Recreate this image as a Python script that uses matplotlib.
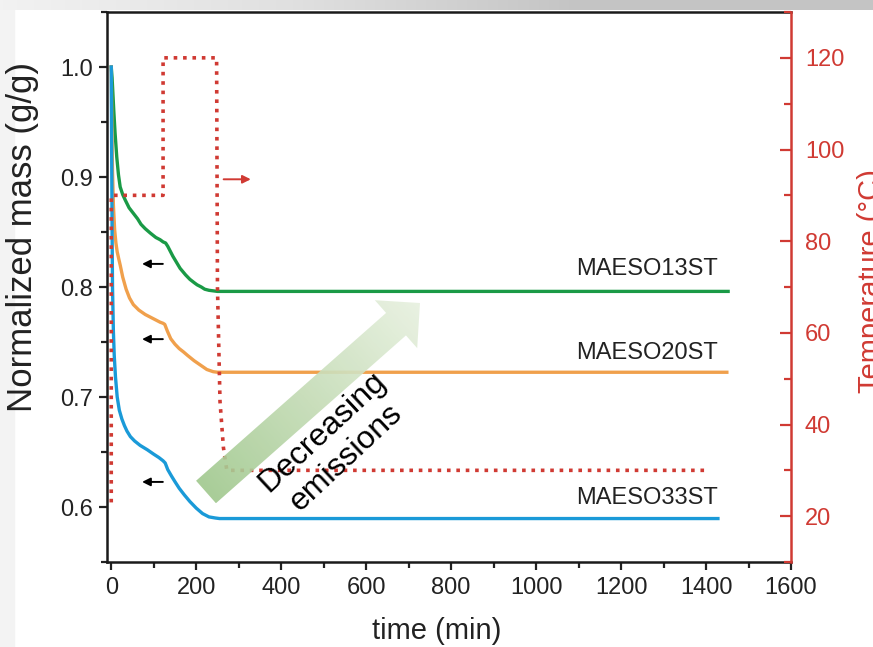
import numpy as np
import matplotlib
matplotlib.use("Agg")
import matplotlib.pyplot as plt
from matplotlib.patches import Polygon, Rectangle

plt.rcParams['font.family'] = ['Liberation Sans', 'DejaVu Sans']

# mass curves (time in min, normalized mass g/g)
t_13 = [0, 2, 4, 6, 9, 13, 17, 21, 27, 33, 42, 52, 62, 70, 80, 92, 105, 115, 122, 128, 133, 145, 162, 175, 185, 195, 202, 212, 220, 230, 240, 250, 1452]
m_13 = [1.0, 0.99, 0.975, 0.96, 0.94, 0.918, 0.902, 0.891, 0.884, 0.879, 0.872, 0.867, 0.862, 0.857, 0.853, 0.849, 0.845, 0.843, 0.841, 0.840, 0.837, 0.828, 0.817, 0.811, 0.807, 0.804, 0.802, 0.800, 0.798, 0.797, 0.7965, 0.796, 0.796]

t_20 = [0, 1, 2, 3, 5, 8, 11, 14, 18, 21, 27, 35, 43, 52, 65, 80, 100, 115, 122, 126, 132, 140, 150, 160, 170, 179, 195, 210, 225, 240, 250, 1449]
m_20 = [1.0, 0.96, 0.93, 0.905, 0.875, 0.852, 0.84, 0.832, 0.825, 0.820, 0.809, 0.798, 0.790, 0.784, 0.779, 0.775, 0.771, 0.768, 0.767, 0.766, 0.760, 0.753, 0.748, 0.744, 0.741, 0.738, 0.733, 0.729, 0.725, 0.723, 0.7225, 0.7225]

t_33 = [0, 1, 2, 3, 5, 7, 10, 14, 19, 25, 31, 37, 45, 55, 68, 85, 100, 112, 122, 127, 133, 142, 150, 160, 172, 185, 200, 215, 230, 245, 255, 1428]
m_33 = [1.0, 0.92, 0.85, 0.80, 0.76, 0.738, 0.718, 0.70, 0.688, 0.68, 0.674, 0.669, 0.664, 0.660, 0.656, 0.652, 0.648, 0.645, 0.642, 0.640, 0.634, 0.628, 0.623, 0.617, 0.611, 0.605, 0.599, 0.594, 0.591, 0.590, 0.5895, 0.5895]

# temperature program
t_temp = [0, 0, 122, 122, 248, 250, 256, 264, 272, 1407]
temp = [23, 90, 90, 120, 120, 70, 45, 35, 30, 30]

labels = ["MAESO13ST", "MAESO20ST", "MAESO33ST"]
label_y = [0.816, 0.740, 0.608]
colors = ["#1a9a46", "#f0a04c", "#1a9ad8"]
red = "#d03a33"

W, H = 873, 647
fig = plt.figure(figsize=(W / 100, H / 100), dpi=100)
fig.patch.set_facecolor("white")

# slide background bits
fig.patches.append(Rectangle((0, 0), 14 / W, 1, transform=fig.transFigure, color="#f3f3f3", zorder=-5))
bg = fig.add_axes([0, 1 - 10 / H, 1, 10 / H], zorder=-4)
grad = np.linspace(0, 1, 256).reshape(1, -1)
bg.imshow(grad, aspect="auto", cmap=matplotlib.colors.LinearSegmentedColormap.from_list(
    "g", ["#f2f2f2", "#e0e0e0", "#c4c4c4", "#c4c4c4"]), extent=[0, 1, 0, 1])
bg.axis("off")

ax = fig.add_axes([107 / W, 1 - 562 / H, 684 / W, 550 / H])
ax2 = ax.twinx()

lw = 2.4
for t, m, c in zip([t_13, t_20, t_33], [m_13, m_20, m_33], colors):
    ax.plot(t, m, color=c, lw=lw, solid_joinstyle="round", zorder=3)

ax2.plot(t_temp, temp, color=red, lw=2.6, ls=(0, (1, 1.6)), zorder=2)

ax.set_xlim(-10, 1600)
ax.set_ylim(0.55, 1.05)
ax2.set_ylim(10, 130)

ax.set_xticks(np.arange(0, 1601, 200))
ax.set_xticks(np.arange(0, 1601, 100), minor=True)
ax.set_yticks([0.6, 0.7, 0.8, 0.9, 1.0])
ax.set_yticklabels(["0.6", "0.7", "0.8", "0.9", "1.0"])
ax.set_yticks(np.arange(0.55, 1.051, 0.05), minor=True)
ax2.set_yticks([20, 40, 60, 80, 100, 120])
ax2.set_yticks(np.arange(10, 131, 10), minor=True)

ax.tick_params(axis="both", which="major", labelsize=17, direction="out", length=6, width=1.6, colors="#222222", pad=4)
ax.tick_params(axis="both", which="minor", direction="out", length=4, width=1.6, colors="#222222")
ax.tick_params(axis="x", which="major", pad=5)
ax2.tick_params(axis="y", which="major", labelsize=17, direction="in", length=8, width=1.6, colors=red, pad=10)
ax2.tick_params(axis="y", which="minor", direction="in", length=5, width=1.6, colors=red)

for s in ["left", "bottom", "top"]:
    ax.spines[s].set_linewidth(1.8)
    ax.spines[s].set_color("#1a1a1a")
for s in ["left", "bottom", "top"]:
    ax2.spines[s].set_visible(False)
ax2.spines["right"].set_color(red)
ax2.spines["right"].set_linewidth(1.8)
ax.spines["right"].set_visible(False)

ax.set_xlabel("time (min)", fontsize=21, color="#222222")
ax.xaxis.set_label_coords(0.482, -0.1)
ax.set_ylabel("Normalized mass (g/g)", fontsize=25, color="#222222")
ax.yaxis.set_label_coords(-0.1, 0.59)
ax2.set_ylabel("Temperature (°C)", fontsize=21, color=red)
ax2.yaxis.set_label_coords(1.097, 0.51)

for lab, y in zip(labels, label_y):
    ax.text(1428, y, lab, fontsize=17, ha="right", va="center", color="#222222")

# small arrows
for y in [0.821, 0.7526, 0.6228]:
    ax.annotate("", xy=(66, y), xytext=(128, y),
                arrowprops=dict(arrowstyle="-|>", color="black", lw=1.4, mutation_scale=12))
ax2.annotate("", xy=(335, 93.5), xytext=(258, 93.5),
             arrowprops=dict(arrowstyle="-|>", color=red, lw=1.4, mutation_scale=12))

# big gradient arrow (pixel coords on overlay)
ov = fig.add_axes([0, 0, 1, 1], zorder=5)
ov.set_xlim(0, W)
ov.set_ylim(H, 0)
ov.axis("off")
ov.patch.set_alpha(0)

tail = np.array([206.0, 492.0])
tip = np.array([420.0, 303.0])
u = (tip - tail) / np.linalg.norm(tip - tail)
n = np.array([-u[1], u[0]])
hw, hh, hl = 15, 32, 32
neck = tip - u * hl
pts = [tail + n * hw, neck + n * hw, neck + n * hh, tip, neck - n * hh, neck - n * hw, tail - n * hw]
poly = Polygon(pts, closed=True, facecolor="none", edgecolor="none")
ov.add_patch(poly)
xs = np.array([p[0] for p in pts])
ys = np.array([p[1] for p in pts])
gx, gy = np.meshgrid(np.linspace(xs.min(), xs.max(), 200), np.linspace(ys.min(), ys.max(), 200))
proj = ((gx - tail[0]) * u[0] + (gy - tail[1]) * u[1]) / np.linalg.norm(tip - tail)
cmap = matplotlib.colors.LinearSegmentedColormap.from_list("arr", ["#9cc689", "#c3dbb4", "#e8f1e0"])
im = ov.imshow(proj, cmap=cmap, extent=[xs.min(), xs.max(), ys.max(), ys.min()],
               aspect="auto", alpha=0.9, origin="upper")
im.set_clip_path(poly)

ov.text(334, 445, "Decreasing\nemissions", fontsize=23, rotation=43, ha="center", va="center",
        rotation_mode="anchor", linespacing=1.25, color="black")

fig.savefig("out.png", dpi=100)
